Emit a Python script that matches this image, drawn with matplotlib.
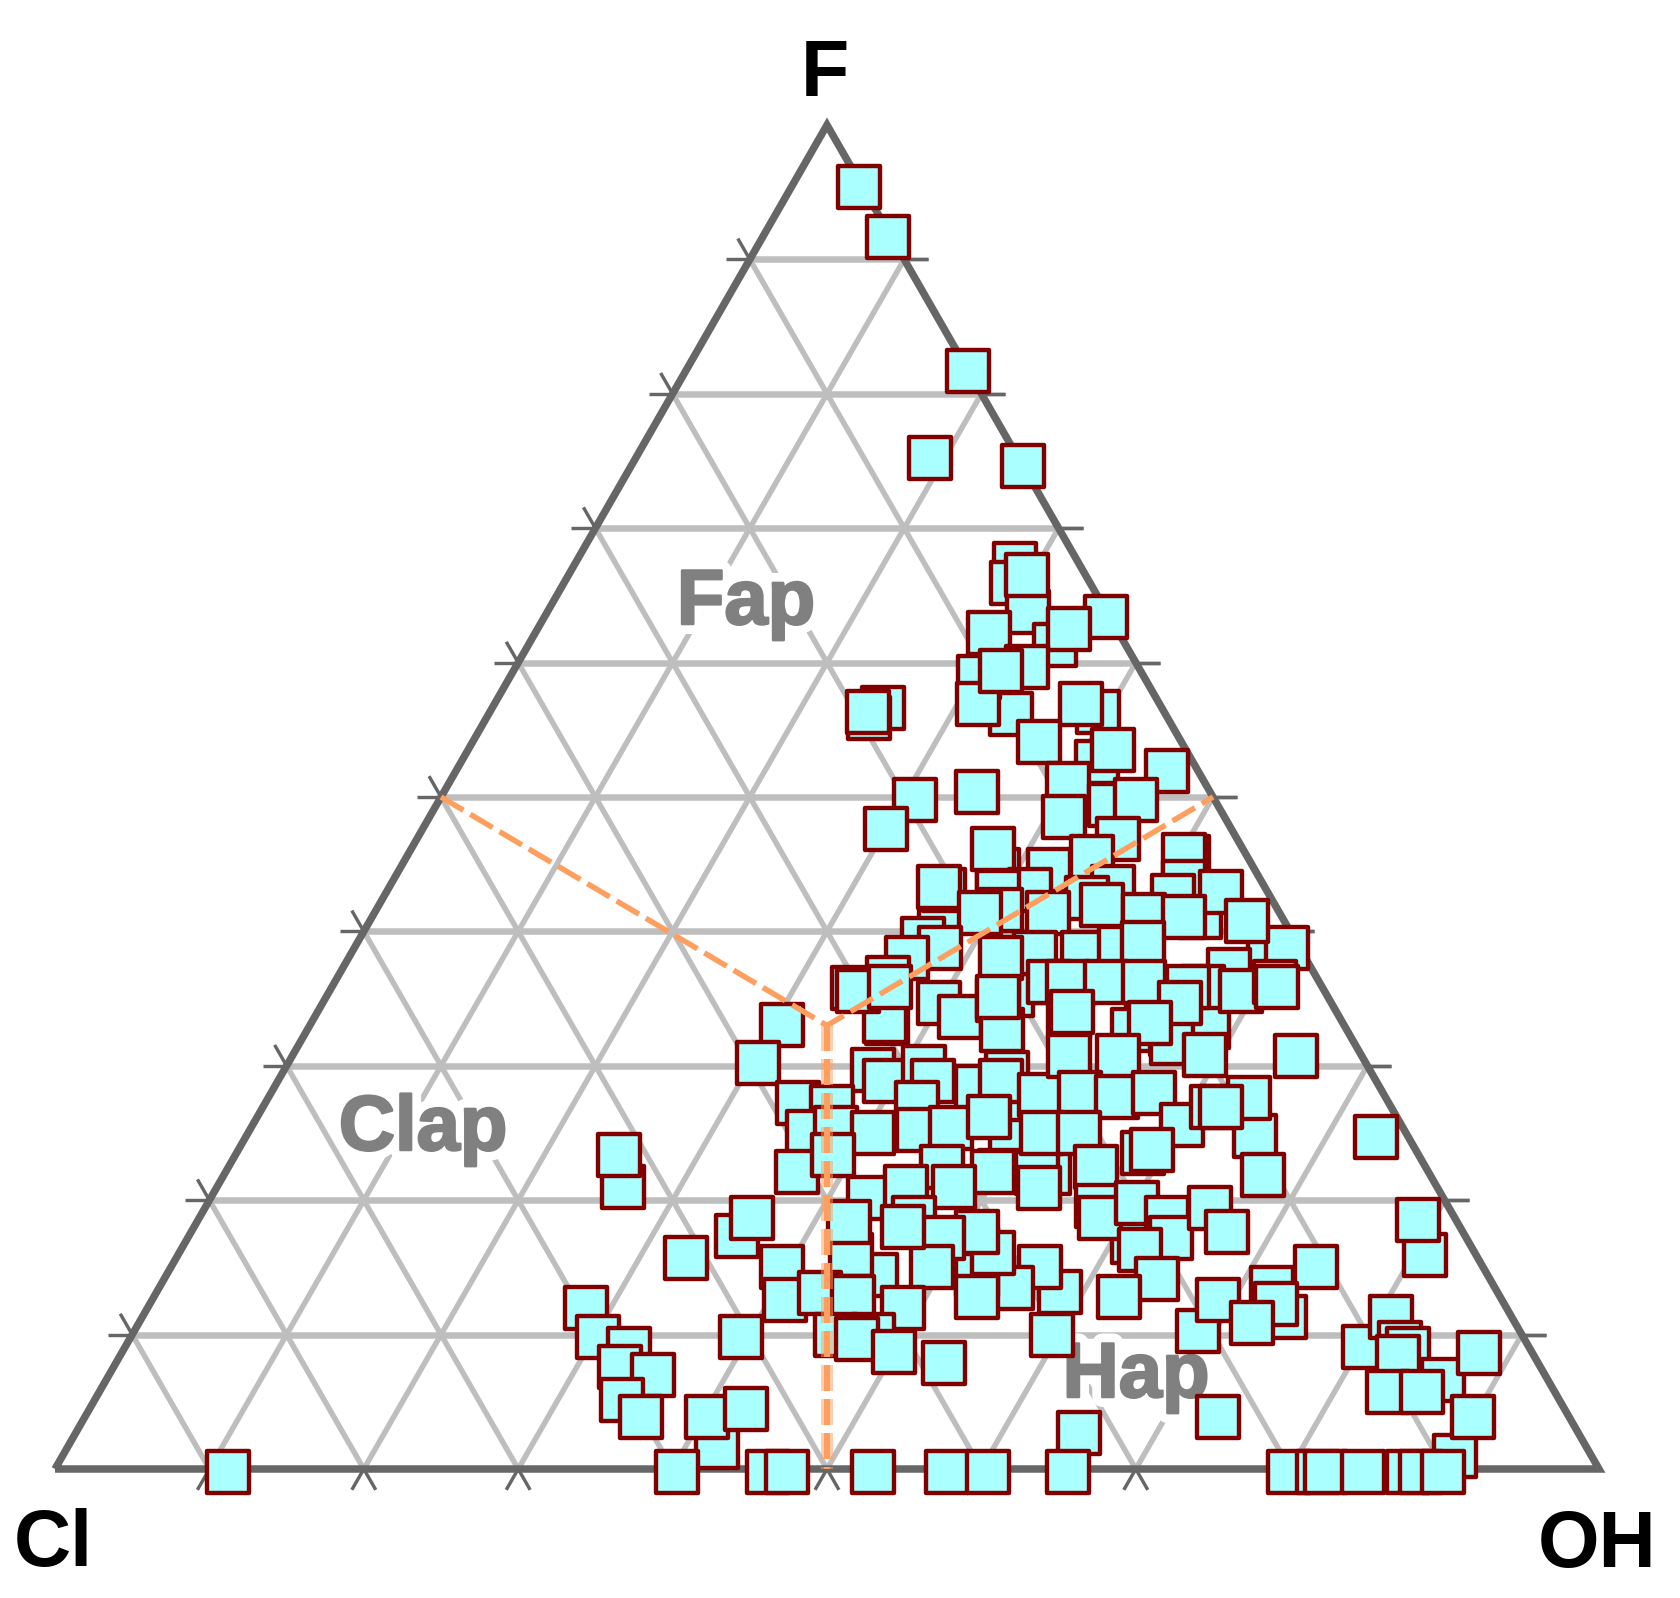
import matplotlib
matplotlib.use("Agg")
import matplotlib.pyplot as plt
import matplotlib.patheffects as pe
import numpy as np

plt.rcParams['font.family'] = ['Liberation Sans', 'DejaVu Sans']

# composition of each analysis, in percent of the F and OH end members (Cl = 100 - F - OH)
F_pct = [95.4,91.7,81.7,75.2,74.6,
 36.2,38.6,34.0,32.7,32.9,32.4,31.7,35.3,41.1,22.0,25.0,22.2,16.9,41.6,27.5,29.5,22.0,
 67.3,65.9,63.8,66.5,63.4,61.3,62.2,62.5,59.7,56.2,58.9,56.9,59.4,56.6,55.9,56.3,56.3,56.9,52.6,53.5,54.1,51.9,51.0,50.4,49.8,49.4,49.8,48.5,47.6,46.9,
 44.6,46.1,45.5,45.7,44.6,45.5,43.7,43.1,43.3,43.1,42.9,42.9,42.6,43.3,42.5,42.0,41.6,41.4,41.4,41.2,41.1,38.8,40.8,
 39.4,38.8,38.0,36.5,35.8,38.4,38.0,38.4,38.8,39.1,37.1,35.9,35.6,36.2,35.9,36.2,36.2,36.2,36.2,35.9,34.7,33.2,34.7,33.6,34.9,33.6,33.2,
 33.0,30.2,33.3,35.6,35.9,32.7,35.1,34.0,29.7,28.9,29.9,28.9,28.4,28.9,27.2,26.9,27.2,25.1,25.4,25.0,25.2,25.4,26.2,27.8,30.7,30.7,28.0,27.7,28.0,25.0,25.0,25.6,23.5,23.7,26.9,
 22.5,22.5,22.1,22.1,23.4,20.2,21.0,20.9,21.0,18.7,19.6,18.7,19.8,18.7,17.2,19.4,16.3,14.1,12.8,13.2,15.0,13.5,14.4,16.1,17.6,17.2,15.0,14.4,15.9,18.4,18.0,15.0,17.3,18.7,12.6,13.1,12.8,12.0,12.8,
 10.0,10.0,9.7,8.7,7.9,10.0,10.3,2.7,3.9,
 21.0,23.4,15.7,12.0,9.8,9.8,8.9,7.6,7.0,5.1,1.6,3.9,4.5,3.9,
 30.8,30.7,24.7,24.8,27.6,26.9,21.9,17.6,15.9,18.5,15.0,13.5,12.6,11.3,12.3,10.9,9.1,11.3,9.4,8.9,8.3,6.6,8.6,5.7,5.7,1.0,3.9,
 -0.2,-0.2,-0.2,-0.2,-0.2,-0.2,-0.2,-0.2,-0.2,-0.2,-0.2,-0.2,-0.2,-0.2,-0.2]
OH_pct = [4.4,8.1,18.3,19.1,25.4,
 45.7,59.3,53.7,53.5,58.2,56.1,56.5,44.3,53.6,53.4,49.4,50.1,61.4,36.5,48.7,46.9,52.6,
 28.5,29.0,31.1,29.7,36.4,34.1,29.4,34.4,33.1,33.8,30.4,31.3,31.6,25.3,24.8,24.5,39.4,38.0,41.2,41.8,36.7,46.1,40.1,34.5,30.8,43.6,45.1,41.1,30.0,45.4,
 38.8,37.7,50.6,50.3,42.1,44.4,51.3,36.0,35.6,41.6,39.6,54.1,51.1,46.9,45.6,46.8,40.5,43.6,39.2,49.9,52.6,60.4,56.8,
 36.5,37.9,36.2,35.7,33.8,44.3,42.3,47.4,49.6,50.9,57.5,56.4,59.0,60.9,61.2,46.3,47.5,50.0,52.4,55.4,55.5,37.3,39.9,41.8,43.6,48.9,54.3,
 30.6,30.4,37.1,34.2,36.1,45.0,43.5,48.9,38.1,39.3,41.3,42.4,45.5,46.8,34.5,36.9,42.2,36.2,37.9,40.5,43.3,45.3,47.4,49.9,50.3,53.5,52.4,54.9,57.2,51.4,53.8,60.2,58.7,59.2,61.5,
 56.2,46.2,49.7,37.0,38.7,42.6,47.7,53.3,44.6,46.3,57.7,58.3,60.2,62.7,63.7,65.1,62.1,64.3,62.5,58.5,56.3,55.2,52.5,52.7,50.9,48.9,49.3,46.0,43.6,42.2,45.9,39.6,35.5,35.8,41.0,43.0,45.3,48.9,53.3,
 45.6,48.0,47.1,50.0,53.6,59.6,68.9,65.0,73.4,
 26.3,24.8,33.0,28.4,30.3,39.5,32.7,32.8,35.2,34.2,42.1,40.3,42.5,36.0,
 59.1,65.0,73.2,65.3,63.5,62.1,67.3,67.1,80.8,79.0,74.2,72.1,69.0,74.0,72.9,72.1,80.2,80.9,82.4,83.2,82.8,86.6,87.9,83.5,85.7,90.2,89.9,
 11.3,40.4,46.3,47.5,53.1,57.9,60.5,65.7,80.0,81.9,82.4,84.8,87.7,88.6,90.0]

grid_levels = [10,20,30,40,50,60,70,80,90]
boundary_F = [50,33,50]
boundary_OH = [0,33.5,50]
split_F = [33,0]
split_OH = [33.5,50]
apex_labels = ['F','Cl','OH']
field_labels = ['Fap','Clap','Hap']

W,H = 1680,1598
fig = plt.figure(figsize=(W/100,H/100),dpi=100,facecolor='white')
ax = fig.add_axes([0,0,1,1])
ax.set_xlim(-55/15.44,(W-55)/15.44)
ax.set_ylim(-(H-1469)/13.44,100+125/13.44)
ax.axis('off')
PX = 0.72

def xy(f,oh):
    f=np.asarray(f,float); oh=np.asarray(oh,float)
    return oh+f/2,f

# grid
GRID='#BEBEBE'; EDGE='#666666'
for g in grid_levels:
    x,y=xy([g,g],[0,100-g])
    ax.plot(x,y,color=GRID,lw=6.5*PX,solid_capstyle='butt',zorder=1)
    for f,oh in ([[0,100-g],[g,g]],[[0,100-g],[100-g,0]]):
        x,y=xy(f,oh)
        ax.plot(x,y,color=GRID,lw=5.5*PX,solid_capstyle='butt',zorder=1)

# ticks outside the triangle
T=1.55
for g in grid_levels:
    segs=[([g,g],[0,-T]),([g,g],[100-g,100-g+T]),
          ([100-g,100-g+T],[0,-T]),
          ([0,-T],[100-g,100-g]),
          ([0,-T],[100-g,100-g+T]),
          ([100-g,100-g],[g,g+T])]
    for f,oh in segs:
        x,y=xy(f,oh)
        ax.plot(x,y,color=EDGE,lw=3.4*PX,solid_capstyle='butt',zorder=1.5)

# triangle
x,y=xy([0,100,0,0],[0,0,100,0])
ax.plot(x,y,color=EDGE,lw=7.5*PX,solid_joinstyle='miter',solid_capstyle='butt',zorder=2)

# points
for f,oh in zip(F_pct,OH_pct):
    x,y=xy(f,oh)
    ax.scatter([x],[y],marker='s',s=(43*PX)**2,facecolor='#AAFFFF',edgecolor='#800000',
               linewidth=4.4*PX,zorder=3,clip_on=False)

# boundaries
O='#FF9F5F'
x,y=xy(split_F,split_OH)
ax.plot(x,y,color=O,alpha=0.5,lw=12*PX,dashes=(26/12,8/12),dash_capstyle='butt',zorder=4)
ax.plot(x,y,color=O,lw=6*PX,dashes=(26/6,8/6),dash_capstyle='butt',zorder=4)
x,y=xy(boundary_F,boundary_OH)
ax.plot(x,y,color=O,lw=5.5*PX,dashes=(26/5.5,8/5.5),dash_capstyle='butt',solid_joinstyle='miter',zorder=4)

def ptext(px,py,s,color,size,zorder,halo=False):
    t=ax.text(px/W,1-py/H,s,transform=fig.transFigure,color=color,fontsize=size,fontweight='bold',
              ha='center',va='baseline',zorder=zorder)
    if halo:
        t.set_path_effects([pe.withStroke(linewidth=20*PX,foreground='white'),
                            pe.withStroke(linewidth=2.5*PX,foreground=color)])
    return t

ptext(825,96,apex_labels[0],'black',57,6)
ptext(53,1566,apex_labels[1],'black',57,6)
ptext(1597,1567,apex_labels[2],'black',57,6)
ptext(746,624,field_labels[0],'#808080',56,2.5,True)
ptext(423,1150,field_labels[1],'#808080',56,2.5,True)
ptext(1136,1397,field_labels[2],'#808080',56,2.5,True)

fig.savefig('out.png',dpi=100,facecolor='white')
